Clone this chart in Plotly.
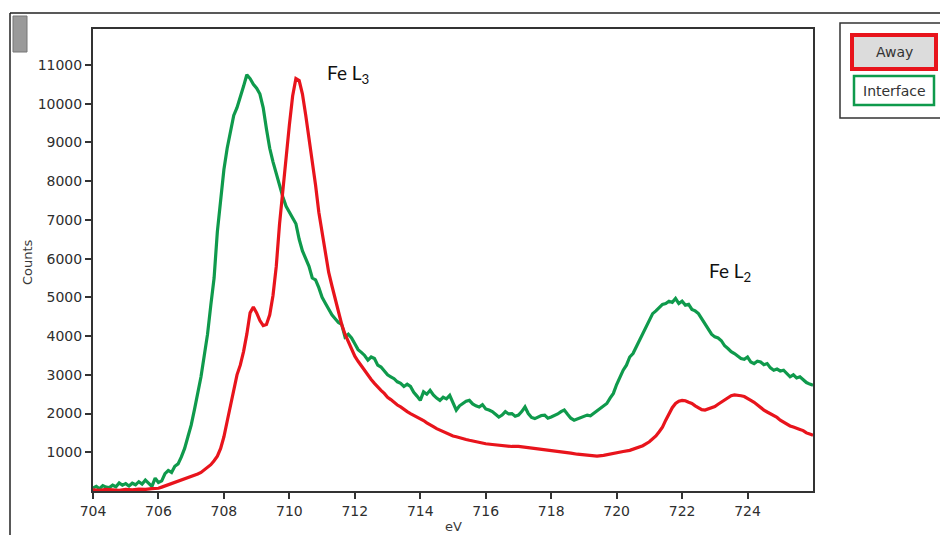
import plotly.graph_objects as go

# ---------------- data ----------------
interface_ev = [704.0,704.1,704.2,704.3,704.4,704.5,704.6,704.7,704.8,704.9,705.0,705.1,705.2,705.3,705.4,705.5,705.6,705.7,705.8,705.9,
706.0,706.1,706.2,706.3,706.4,706.5,706.6,706.7,706.8,706.9,707.0,707.1,707.2,707.3,707.4,707.5,707.6,707.7,707.8,707.9,
708.0,708.1,708.2,708.3,708.4,708.5,708.6,708.7,708.8,708.9,709.0,709.1,709.2,709.3,709.4,709.5,709.6,709.7,709.8,709.9,
710.0,710.1,710.2,710.3,710.4,710.5,710.6,710.7,710.8,710.9,711.0,711.1,711.2,711.3,711.4,711.5,711.6,711.7,711.8,711.9,
712.0,712.1,712.2,712.3,712.4,712.5,712.6,712.7,712.8,712.9,713.0,713.1,713.2,713.3,713.4,713.5,713.6,713.7,713.8,713.9,
714.0,714.1,714.2,714.3,714.4,714.5,714.6,714.7,714.8,714.9,715.0,715.1,715.2,715.3,715.4,715.5,715.6,715.7,715.8,715.9,
716.0,716.1,716.2,716.3,716.4,716.5,716.6,716.7,716.8,716.9,717.0,717.1,717.2,717.3,717.4,717.5,717.6,717.7,717.8,717.9,
718.0,718.1,718.2,718.3,718.4,718.5,718.6,718.7,718.8,718.9,719.0,719.1,719.2,719.3,719.4,719.5,719.6,719.7,719.8,719.9,
720.0,720.1,720.2,720.3,720.4,720.5,720.6,720.7,720.8,720.9,721.0,721.1,721.2,721.3,721.4,721.5,721.6,721.7,721.8,721.9,
722.0,722.1,722.2,722.3,722.4,722.5,722.6,722.7,722.8,722.9,723.0,723.1,723.2,723.3,723.4,723.5,723.6,723.7,723.8,723.9,
724.0,724.1,724.2,724.3,724.4,724.5,724.6,724.7,724.8,724.9,725.0,725.1,725.2,725.3,725.4,725.5,725.6,725.7,725.8,725.9,726.0]
interface_counts = [80,120,60,140,100,90,150,110,210,150,190,130,200,160,240,180,280,200,120,330,
220,260,450,530,480,640,700,880,1100,1400,1700,2100,2500,2950,3500,4050,4800,5500,6700,7600,
8300,8850,9300,9700,9900,10150,10450,10750,10650,10500,10400,10250,9900,9350,8850,8500,8200,7850,7600,7350,
7200,7050,6900,6500,6200,6000,5800,5500,5450,5250,5000,4850,4700,4550,4450,4350,4300,3980,4050,3950,
3800,3650,3580,3500,3380,3460,3420,3250,3200,3100,3000,2950,2900,2820,2780,2700,2760,2700,2550,2450,
2340,2560,2500,2600,2480,2400,2340,2420,2380,2470,2300,2090,2200,2260,2320,2340,2250,2200,2170,2230,
2120,2090,2050,1980,1910,1960,2050,1990,2000,1930,1960,2050,2170,2000,1900,1870,1920,1950,1960,1880,
1910,1940,1990,2050,2090,1980,1880,1830,1860,1900,1910,1960,1940,2000,2060,2130,2180,2260,2400,2520,
2750,2950,3120,3250,3460,3550,3720,3890,4080,4240,4420,4580,4650,4750,4820,4840,4900,4870,4970,4840,
4900,4800,4820,4690,4650,4580,4450,4300,4200,4050,3980,3950,3880,3750,3680,3600,3550,3480,3420,3400,
3460,3330,3290,3350,3330,3260,3290,3180,3120,3150,3100,3120,3040,2950,3000,2920,2950,2860,2800,2760,2730]

away_ev = [704.0,704.2,704.4,704.6,704.8,705.0,705.2,705.4,705.6,705.8,
706.0,706.1,706.2,706.3,706.4,706.5,706.6,706.7,706.8,706.9,707.0,707.1,707.2,707.3,707.4,707.5,707.6,707.7,707.8,707.9,
708.0,708.1,708.2,708.3,708.4,708.5,708.6,708.7,708.8,708.9,709.0,709.1,709.2,709.3,709.4,709.5,709.6,709.7,709.8,709.9,
710.0,710.1,710.2,710.3,710.4,710.5,710.6,710.7,710.8,710.9,711.0,711.1,711.2,711.3,711.4,711.5,711.6,711.7,711.8,711.9,
712.0,712.1,712.2,712.3,712.4,712.5,712.6,712.7,712.8,712.9,713.0,713.1,713.2,713.3,713.4,713.5,713.6,713.7,713.8,713.9,
714.0,714.1,714.2,714.3,714.4,714.5,714.6,714.7,714.8,714.9,715.0,715.1,715.2,715.3,715.4,715.5,715.6,715.7,715.8,715.9,
716.0,716.2,716.4,716.6,716.8,717.0,717.2,717.4,717.6,717.8,718.0,718.2,718.4,718.6,718.8,719.0,719.2,719.4,719.6,719.8,
720.0,720.2,720.4,720.6,720.8,721.0,721.1,721.2,721.3,721.4,721.5,721.6,721.7,721.8,721.9,
722.0,722.1,722.2,722.3,722.4,722.5,722.6,722.7,722.8,722.9,723.0,723.1,723.2,723.3,723.4,723.5,723.6,723.7,723.8,723.9,
724.0,724.1,724.2,724.3,724.4,724.5,724.6,724.7,724.8,724.9,725.0,725.1,725.2,725.3,725.4,725.5,725.6,725.7,725.8,725.9,726.0]
away_counts = [30,20,40,30,20,40,30,50,40,60,
70,100,130,160,190,210,250,290,320,340,370,400,440,480,540,600,680,780,900,1100,
1400,1800,2200,2650,3000,3250,3600,4050,4600,4750,4600,4400,4270,4300,4550,5050,5800,6900,7800,8600,
9450,10200,10650,10600,10250,9700,9100,8550,7900,7200,6650,6100,5650,5300,4950,4600,4300,4050,3850,3650,
3480,3350,3230,3100,2980,2880,2780,2680,2600,2520,2420,2360,2280,2220,2170,2100,2050,2000,1960,1910,
1860,1820,1760,1700,1660,1610,1570,1520,1490,1450,1420,1400,1370,1340,1330,1310,1290,1260,1240,1230,
1220,1200,1180,1170,1150,1150,1130,1110,1100,1080,1050,1030,1010,980,950,930,920,900,920,960,
1000,1020,1050,1100,1170,1270,1340,1420,1530,1650,1830,2000,2150,2260,2320,
2340,2330,2290,2260,2200,2140,2100,2090,2120,2150,2180,2240,2300,2360,2420,2460,2480,2480,2460,2440,
2400,2340,2290,2220,2140,2090,2040,2000,1960,1900,1830,1780,1720,1680,1650,1610,1590,1560,1500,1470,1440]

x_ticks = [704, 706, 708, 710, 712, 714, 716, 718, 720, 722, 724]
y_ticks = [1000, 2000, 3000, 4000, 5000, 6000, 7000, 8000, 9000, 10000, 11000]
series_names = ["Away", "Interface"]

RED = "#e8141c"
GREEN = "#0f9a4c"

# ---------------- geometry helpers (screen pixels; page has an 8px body margin) ----------------
OFF = 8
W, H = 948 - OFF, 535 - OFF
PL, PR, PT, PB = 93 - OFF, 813 - OFF, 29 - OFF, 491 - OFF


def px(x):
    return (x - OFF - PL) / (PR - PL)


def py(y):
    return (PB - (y - OFF)) / (PB - PT)


fig = go.Figure()
fig.add_trace(go.Scatter(x=interface_ev, y=interface_counts, mode="lines", name=series_names[1],
                         line=dict(color=GREEN, width=3.2)))
fig.add_trace(go.Scatter(x=away_ev, y=away_counts, mode="lines", name=series_names[0],
                         line=dict(color=RED, width=3.2)))

tickfont = dict(family="DejaVu Sans", size=14, color="#2e2e2e")
fig.update_layout(
    width=W, height=H,
    margin=dict(l=PL, r=W - PR, t=PT, b=H - PB, autoexpand=False),
    paper_bgcolor="white", plot_bgcolor="white",
    showlegend=False,
    xaxis=dict(range=[704, 726], tickvals=x_ticks, ticktext=[str(v) for v in x_ticks],
               showgrid=False, zeroline=False, showline=True, linecolor="#333", linewidth=2,
               mirror=True, ticks="outside", ticklen=6, tickwidth=1.5, tickcolor="#333",
               tickfont=tickfont),
    yaxis=dict(range=[0, 11930], tickvals=y_ticks, ticktext=[str(v) for v in y_ticks],
               showgrid=False, zeroline=False, showline=True, linecolor="#333", linewidth=2,
               mirror=True, ticks="outside", ticklen=6, tickwidth=1.5, tickcolor="#333",
               tickfont=tickfont),
)

shapes = []
# outer window frame
shapes.append(dict(type="line", xref="paper", yref="paper", x0=px(10), x1=px(948), y0=py(13), y1=py(13),
                   line=dict(color="#222", width=1.5)))
shapes.append(dict(type="line", xref="paper", yref="paper", x0=px(10), x1=px(10), y0=py(13), y1=py(535),
                   line=dict(color="#222", width=1.5)))
# scroll handle
shapes.append(dict(type="rect", xref="paper", yref="paper", x0=px(13), x1=px(27), y0=py(52), y1=py(16),
                   fillcolor="#9a9a9a", line=dict(color="#777", width=1)))
# legend frame
shapes.append(dict(type="rect", xref="paper", yref="paper", x0=px(840), x1=px(944), y0=py(118), y1=py(23),
                   fillcolor="white", line=dict(color="#333", width=1.5)))
shapes.append(dict(type="rect", xref="paper", yref="paper", x0=px(852), x1=px(936), y0=py(69), y1=py(35),
                   fillcolor="#dcdcdc", line=dict(color=RED, width=4)))
shapes.append(dict(type="rect", xref="paper", yref="paper", x0=px(854), x1=px(934), y0=py(105), y1=py(76),
                   fillcolor="white", line=dict(color=GREEN, width=2.5)))
fig.update_layout(shapes=shapes)

lab = dict(family="DejaVu Sans", size=14, color="#333")
fig.add_annotation(xref="paper", yref="paper", x=px(894), y=py(52), text=series_names[0], showarrow=False,
                   font=lab, xanchor="center", yanchor="middle")
fig.add_annotation(xref="paper", yref="paper", x=px(894), y=py(91), text=series_names[1], showarrow=False,
                   font=lab, xanchor="center", yanchor="middle")

# axis titles
fig.add_annotation(xref="paper", yref="paper", x=px(453), y=py(526), text="eV", showarrow=False,
                   font=dict(family="DejaVu Sans", size=13, color="#3a3a3a"), xanchor="center", yanchor="middle")
fig.add_annotation(xref="paper", yref="paper", x=px(28), y=py(262), text="Counts", showarrow=False, textangle=-90,
                   font=dict(family="DejaVu Sans", size=13, color="#3a3a3a"), xanchor="center", yanchor="middle")

fig.add_annotation(x=711.1, y=10780, text="Fe L<sub>3</sub>", showarrow=False, xanchor="left", yanchor="middle",
                   font=dict(family="Lato", size=19, color="#111"))
fig.add_annotation(x=722.75, y=5660, text="Fe L<sub>2</sub>", showarrow=False, xanchor="left", yanchor="middle",
                   font=dict(family="Lato", size=19, color="#111"))

fig.write_html("out.html")
